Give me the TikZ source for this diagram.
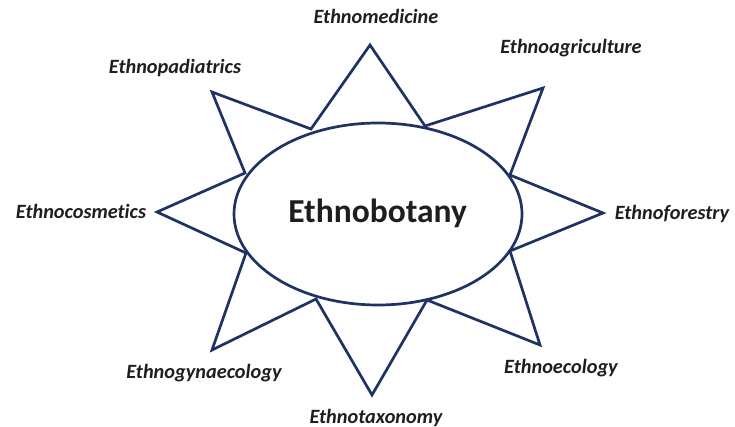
\documentclass[tikz,border=0pt]{standalone}
\usepackage{fontspec}
\setmainfont{Carlito}[Ligatures=NoCommon]
\usetikzlibrary{shapes.geometric}
\definecolor{navy}{RGB}{31,50,100}
\definecolor{txt}{RGB}{30,30,30}
\tikzset{
  lbl/.style={anchor=base, text=txt, inner sep=0pt, font=\fontsize{20.3}{23}\selectfont\bfseries\itshape},
  starline/.style={draw=navy, line width=2.7pt, line join=miter}
}
\begin{document}
\begin{tikzpicture}[x=1pt,y=-1pt]
\useasboundingbox (0,0) rectangle (735,427);
% base vertices on the ellipse
\coordinate (v1) at (311,129);
\coordinate (v2) at (425,126);
\coordinate (v3) at (510,175);
\coordinate (v4) at (510,251);
\coordinate (v5) at (427,300);
\coordinate (v6) at (316,299);
\coordinate (v7) at (246,253);
\coordinate (v8) at (245,173);
% tips
\coordinate (t1) at (370,45);
\coordinate (t2) at (543,88);
\coordinate (t3) at (603,213);
\coordinate (t4) at (540,345);
\coordinate (t5) at (372,395);
\coordinate (t6) at (212,350);
\coordinate (t7) at (157,212);
\coordinate (t8) at (212,92);
\draw[starline] (v1) -- (t1) -- (v2) -- (t2) -- (v3) -- (t3) -- (v4) -- (t4) -- (v5) -- (t5) -- (v6) -- (t6) -- (v7) -- (t7) -- (v8) -- (t8) -- cycle;
\node[ellipse, draw=navy, line width=2.7pt, minimum width=288pt, minimum height=182pt, inner sep=0pt] (c) at (378,214) {};
\node[anchor=base, text=txt, inner sep=0pt, font=\fontsize{33.5}{38}\selectfont\bfseries] (cl) at (377.5,223) {Ethnobotany};
\node[lbl] (l1) at (376,24) {Ethnomedicine};
\node[lbl] (l2) at (571,54) {Ethnoagriculture};
\node[lbl] (l3) at (672,220) {Ethnoforestry};
\node[lbl] (l4) at (561,373) {Ethnoecology};
\node[lbl] (l5) at (376,423) {Ethnotaxonomy};
\node[lbl] (l6) at (204,378) {Ethnogynaecology};
\node[lbl] (l7) at (81,219) {Ethnocosmetics};
\node[lbl] (l8) at (175,74) {Ethnopadiatrics};
\end{tikzpicture}
\end{document}
